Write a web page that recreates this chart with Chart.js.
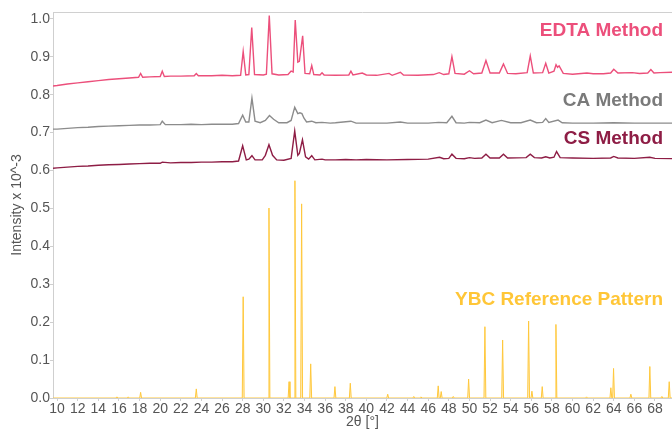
<!DOCTYPE html>
<html>
<head>
<meta charset="utf-8">
<script src="https://cdn.jsdelivr.net/npm/chart.js@4/dist/chart.umd.min.js"></script>
<style>
html,body{margin:0;padding:0;background:#fff;}
#wrap{width:672px;height:430px;position:relative;}
</style>
</head>
<body>
<div id="wrap"><canvas id="c" width="672" height="430"></canvas></div>
<script>
// ---- DATA (2θ in degrees, intensity x 10^-3) ----
const edtaPoints = [[9.6,0.823],[10,0.824],[11,0.828],[12,0.831],[13,0.834],[14,0.837],[15,0.840],[16,0.842],[17,0.844],[17.9,0.846],[18.1,0.856],[18.3,0.846],[19,0.847],[20.0,0.848],[20.2,0.862],[20.4,0.848],[21,0.849],[22,0.849],[23.3,0.850],[23.5,0.856],[23.7,0.850],[24,0.850],[25,0.850],[26,0.851],[27,0.850],[27.8,0.851],[28.05,0.914],[28.3,0.852],[28.6,0.853],[28.88,0.977],[29.15,0.853],[30,0.852],[30.3,0.854],[30.58,1.009],[30.85,0.855],[31.5,0.852],[32.4,0.853],[32.7,0.862],[32.9,0.86],[33.1,0.997],[33.35,0.886],[33.5,0.888],[33.82,0.955],[34.05,0.856],[34.5,0.855],[34.7,0.877],[34.9,0.853],[35.5,0.852],[35.7,0.858],[35.9,0.852],[37,0.851],[38.3,0.852],[38.5,0.862],[38.7,0.852],[39.6,0.857],[40,0.852],[41,0.851],[42.2,0.856],[42.5,0.851],[43.3,0.859],[43.6,0.852],[45,0.851],[46.5,0.853],[47.07,0.858],[47.5,0.853],[48.0,0.855],[48.3,0.9],[48.6,0.856],[49.5,0.854],[50.0,0.863],[50.4,0.855],[51.2,0.857],[51.6,0.89],[52.0,0.857],[52.9,0.857],[53.15,0.872],[53.3,0.881],[53.7,0.856],[54.5,0.855],[55.6,0.858],[55.9,0.902],[56.2,0.857],[57.1,0.858],[57.4,0.883],[57.7,0.857],[58.2,0.862],[58.4,0.879],[58.55,0.872],[58.7,0.876],[59.1,0.856],[60,0.854],[61.4,0.857],[62,0.855],[63,0.855],[63.7,0.857],[64.0,0.867],[64.4,0.857],[65.8,0.858],[66.5,0.856],[67.3,0.857],[67.6,0.866],[67.9,0.857],[68.5,0.858],[69.7,0.859],[70.5,0.859]];

const caPoints = [[9.6,0.709],[10,0.709],[11,0.711],[12,0.713],[13,0.714],[14,0.716],[15,0.717],[16,0.718],[17,0.719],[18,0.720],[19,0.720],[20.0,0.721],[20.2,0.730],[20.5,0.721],[21,0.721],[22,0.721],[23,0.722],[24,0.721],[25,0.722],[26,0.722],[27,0.722],[27.6,0.724],[28.0,0.746],[28.3,0.728],[28.6,0.728],[28.9,0.791],[29.2,0.730],[29.7,0.726],[30.2,0.732],[30.6,0.745],[31.0,0.735],[31.5,0.726],[32.3,0.726],[32.7,0.732],[33.05,0.767],[33.35,0.750],[33.55,0.752],[33.75,0.750],[33.95,0.738],[34.2,0.728],[34.7,0.730],[35.1,0.726],[35.7,0.727],[36.5,0.725],[37,0.726],[38.5,0.730],[39,0.725],[40,0.725],[41,0.725],[42,0.725],[43.3,0.728],[44,0.725],[45,0.725],[46,0.725],[47,0.727],[47.8,0.726],[48.3,0.743],[48.7,0.726],[49.5,0.725],[50,0.727],[51,0.726],[51.6,0.733],[52.2,0.726],[53.1,0.732],[54,0.726],[55,0.726],[55.9,0.733],[56.5,0.726],[57.1,0.727],[57.4,0.737],[57.7,0.727],[58.6,0.733],[59,0.726],[60,0.725],[62,0.725],[64,0.726],[66,0.725],[68,0.725],[70.5,0.725]];

const csPoints = [[9.6,0.606],[10,0.607],[11,0.609],[12,0.611],[13,0.612],[14,0.614],[15,0.615],[16,0.616],[17,0.617],[18,0.618],[19,0.619],[20,0.619],[20.2,0.622],[21,0.620],[22,0.621],[23,0.621],[24,0.622],[25,0.622],[26,0.623],[27,0.623],[27.6,0.625],[28.0,0.665],[28.35,0.628],[28.6,0.630],[28.9,0.639],[29.2,0.628],[29.9,0.628],[30.2,0.640],[30.55,0.668],[30.9,0.640],[31.3,0.628],[32,0.627],[32.7,0.632],[33.05,0.704],[33.35,0.640],[33.5,0.645],[33.8,0.681],[34.1,0.636],[34.4,0.630],[34.7,0.639],[35.0,0.628],[35.7,0.630],[36,0.628],[37,0.628],[38,0.629],[39,0.628],[40,0.629],[42,0.628],[44,0.629],[46,0.630],[47.1,0.635],[47.5,0.631],[48.0,0.632],[48.3,0.643],[48.7,0.632],[49.5,0.631],[50.0,0.634],[50.5,0.632],[51.2,0.633],[51.6,0.643],[52.0,0.633],[52.9,0.633],[53.3,0.643],[53.7,0.633],[55.5,0.634],[55.9,0.643],[56.3,0.634],[57,0.633],[57.4,0.636],[57.8,0.633],[58.2,0.635],[58.45,0.650],[58.8,0.634],[60,0.633],[62,0.632],[63.7,0.633],[64.0,0.637],[64.4,0.633],[66,0.632],[67.5,0.635],[68,0.632],[70.5,0.631]];

const ybcPeakPos    = [15.8, 16.9, 18.1, 23.5, 28.05, 30.55, 32.5, 33.07, 33.72, 34.6, 36.95, 38.44, 42.07, 44.6, 45.3, 46.97, 47.26, 48.43, 49.92, 51.5, 53.22, 55.74, 56.06, 57.06, 58.39, 61.36, 63.72, 63.98, 65.66, 67.5, 68.67, 69.38];
const ybcPeakHeight = [0.003, 0.003, 0.015, 0.024, 0.267, 0.501, 0.043, 0.573, 0.512, 0.090, 0.030, 0.039, 0.010, 0.004, 0.003, 0.032, 0.017, 0.004, 0.050, 0.188, 0.153, 0.203, 0.018, 0.030, 0.194, 0.003, 0.027, 0.078, 0.010, 0.083, 0.004, 0.043];

const seriesNames = ['EDTA Method', 'CA Method', 'CS Method', 'YBC Reference Pattern'];
const xTitle = '2θ [°]';
const yTitle = 'Intensity x 10^-3';

// ---- build datasets ----
const toXY = arr => arr.map(p => ({x: p[0], y: p[1]}));
const ybcData = [{x: 9.6, y: 0}];
ybcPeakPos.forEach((p, i) => {
  ybcData.push({x: p - 0.09, y: 0}, {x: p, y: ybcPeakHeight[i]}, {x: p + 0.09, y: 0});
});
ybcData.push({x: 70.5, y: 0});

const colors = ['#EC4F7B', '#8C8C8C', '#8E1D45', '#FFC83D'];
const textColors = ['#EC4F7B', '#7A7A7A', '#8E1D45', '#FFC637'];
const labelY = [0.968, 0.785, 0.684, 0.258];

const FONT = '"Liberation Sans", Arial, sans-serif';

const labelPlugin = {
  id: 'labels',
  afterDatasetsDraw(chart) {
    const {ctx, chartArea, scales} = chart;
    ctx.save();
    // top frame line
    ctx.strokeStyle = '#d0d0d0';
    ctx.lineWidth = 1;
    ctx.beginPath();
    ctx.moveTo(chartArea.left, chartArea.top + 0.5);
    ctx.lineTo(chartArea.right, chartArea.top + 0.5);
    ctx.stroke();
    ctx.font = 'bold 19px ' + FONT;
    ctx.textAlign = 'right';
    ctx.textBaseline = 'middle';
    seriesNames.forEach((n, i) => {
      ctx.fillStyle = textColors[i];
      ctx.fillText(n, chartArea.right - 9, scales.y.getPixelForValue(labelY[i]));
    });
    ctx.restore();
  }
};

new Chart(document.getElementById('c'), {
  type: 'line',
  data: {
    datasets: [
      {label: seriesNames[3], data: ybcData, borderColor: colors[3], backgroundColor: 'rgba(255,214,110,0.35)', fill: 'origin', borderWidth: 1, pointRadius: 0, tension: 0},
      {label: seriesNames[2], data: toXY(csPoints), borderColor: colors[2], borderWidth: 1.4, pointRadius: 0, tension: 0, fill: false},
      {label: seriesNames[1], data: toXY(caPoints), borderColor: colors[1], borderWidth: 1.4, pointRadius: 0, tension: 0, fill: false},
      {label: seriesNames[0], data: toXY(edtaPoints), borderColor: colors[0], borderWidth: 1.4, pointRadius: 0, tension: 0, fill: false}
    ]
  },
  options: {
    responsive: false,
    animation: false,
    events: [],
    layout: {padding: {top: 12, right: 0, bottom: 0, left: 0}},
    plugins: {legend: {display: false}, tooltip: {enabled: false}},
    scales: {
      x: {
        type: 'linear',
        min: 9.6,
        max: 69.65,
        afterFit(s) { s.height = 32; },
        border: {color: '#cfcfcf', width: 1},
        grid: {display: true, drawOnChartArea: false, tickLength: 3, color: '#cfcfcf'},
        ticks: {stepSize: 2, includeBounds: false, maxRotation: 0, autoSkip: false, padding: 0, color: '#555', font: {family: FONT, size: 14}},
        title: {display: true, text: xTitle, color: '#555', font: {family: FONT, size: 14}, padding: {top: 0, bottom: -1}}
      },
      y: {
        type: 'linear',
        min: 0,
        max: 1.018,
        afterFit(s) { s.width = 53; },
        border: {color: '#cfcfcf', width: 1},
        grid: {display: true, drawOnChartArea: false, tickLength: 3, color: '#cfcfcf'},
        ticks: {stepSize: 0.1, includeBounds: false, padding: 0, color: '#555', font: {family: FONT, size: 14}, callback: v => v.toFixed(1)},
        title: {display: true, text: yTitle, color: '#555', font: {family: FONT, size: 14}, padding: {top: 9, bottom: 0}}
      }
    }
  },
  plugins: [labelPlugin]
});
</script>
</body>
</html>
